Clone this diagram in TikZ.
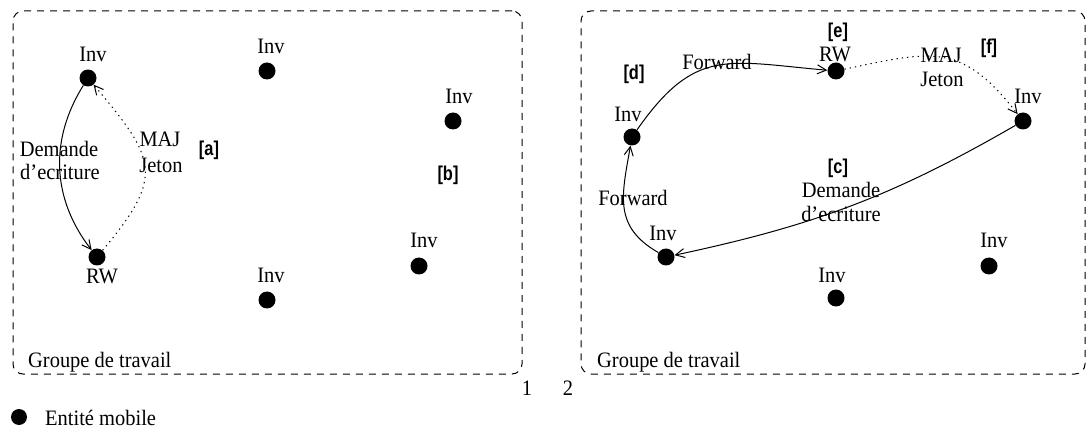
\documentclass[tikz,border=0pt]{standalone}
\usepackage{fontspec}
\setmainfont{Liberation Serif}[FakeStretch=0.93]
\newfontfamily\tagfont{Liberation Sans}[FakeStretch=0.82]
\usetikzlibrary{arrows.meta}
\begin{document}
\begin{tikzpicture}[x=1pt,y=1pt,
 dot/.style={circle,fill=black,inner sep=0pt,minimum size=17pt},
 txt/.style={font=\fontsize{22}{24}\selectfont, inner sep=0pt, anchor=base},
 tag/.style={font=\tagfont\bfseries\fontsize{20}{22}\selectfont, inner sep=0pt},
 grp/.style={draw, dash pattern=on 7pt off 6pt, line width=1pt, rounded corners=10pt, inner sep=0pt},
 arr/.style={line width=1pt, -{Straight Barb[length=9pt,width=9pt]}},
 dotarr/.style={arr, dash pattern=on 1.3pt off 4pt},
]
\useasboundingbox (0,0) rectangle (1087,-430);
\fill[white] (0,0) rectangle (1087,-430);

% group boxes
\node[grp, minimum width=509pt, minimum height=363pt] (g1) at (267.5,-192.5) {};
\node[grp, minimum width=504pt, minimum height=363pt] (g2) at (833,-192.5) {};
\node[txt, anchor=base west] (gt1) at (28,-367) {Groupe de travail};
\node[txt, anchor=base west] (gt2) at (597,-367) {Groupe de travail};
\node[txt] (n1) at (527,-395) {1};
\node[txt] (n2) at (568,-395) {2};

% legend
\node[dot, minimum size=16pt] (ld) at (19,-417) {};
\node[txt, anchor=base west] (lt) at (45,-425) {Entité mobile};

% ---------- left box ----------
\node[dot] (a1) at (88,-78) {};
\node[txt] (a1l) at (93,-62) {Inv};
\node[dot] (a2) at (97,-257) {};
\node[txt] (a2l) at (102,-284) {RW};
\node[dot] (a3) at (267,-71) {};
\node[txt] (a3l) at (271,-54) {Inv};
\node[dot] (a4) at (453,-121) {};
\node[txt] (a4l) at (459,-104) {Inv};
\node[dot] (a5) at (419,-266) {};
\node[txt] (a5l) at (424,-248) {Inv};
\node[dot] (a6) at (267,-300) {};
\node[txt] (a6l) at (271,-283) {Inv};
\node[tag] (ta) at (209,-150) {[a]};
\node[tag] (tb) at (448,-175) {[b]};

\draw[arr] (a1) to[bend right=35] (a2);
\draw[dotarr] (a2) to[out=50, in=-50, looseness=1.5] (a1);
\node[txt] (d1a) at (59,-157) {Demande};
\node[txt] (d1b) at (60,-180) {d’ecriture};
\node[txt] (m1a) at (160,-147) {MAJ};
\node[txt] (m1b) at (161,-173) {Jeton};

% ---------- right box ----------
\node[dot] (b1) at (632,-137) {};
\node[txt] (b1l) at (628,-122) {Inv};
\node[dot] (b2) at (836,-71) {};
\node[txt] (b2l) at (835,-62) {RW};
\node[dot] (b3) at (1023,-121) {};
\node[txt] (b3l) at (1028,-104) {Inv};
\node[dot] (b4) at (666,-257) {};
\node[txt] (b4l) at (663,-241) {Inv};
\node[dot] (b5) at (836,-298) {};
\node[txt] (b5l) at (832,-283) {Inv};
\node[dot] (b6) at (989,-266) {};
\node[txt] (b6l) at (994,-248) {Inv};
\node[tag] (td) at (634,-74) {[d]};
\node[tag] (te) at (838,-32) {[e]};
\node[tag] (tf) at (989,-48) {[f]};
\node[tag] (tc) at (838,-168) {[c]};

\draw[arr] (b1) to[out=55, in=175, looseness=1.3] (b2);
\draw[dotarr] (b2) to[out=12, in=128, looseness=1.3] (b3);
\draw[arr] (b3) to[out=210, in=12] (b4);
\draw[arr] (b4) to[out=150, in=-100, looseness=1.2] (b1);

\node[txt] (f1) at (717,-70) {Forward};
\node[txt] (f2) at (633,-206) {Forward};
\node[txt] (m2a) at (941,-63) {MAJ};
\node[txt] (m2b) at (942,-87) {Jeton};
\node[txt] (d2a) at (841,-198) {Demande};
\node[txt] (d2b) at (841,-222) {d’ecriture};
\end{tikzpicture}
\end{document}
